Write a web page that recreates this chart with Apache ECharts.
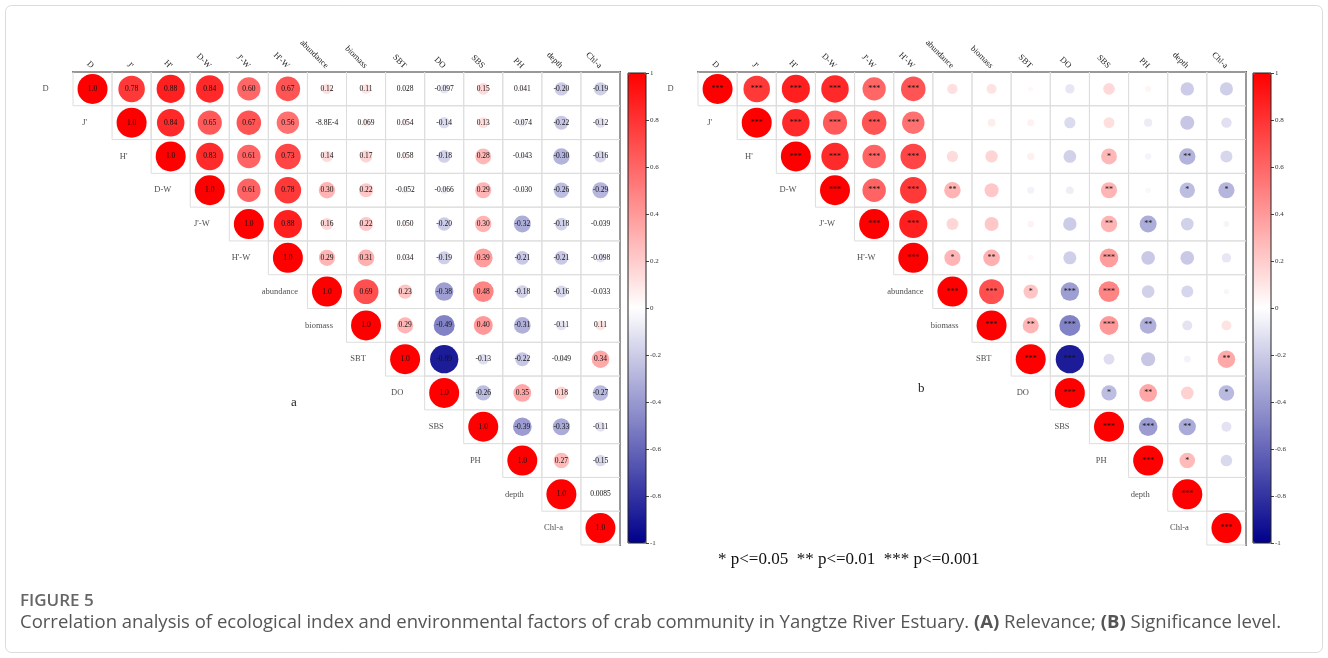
<!DOCTYPE html>
<html>
<head>
<meta charset="utf-8">
<title>Correlation matrix of crab community indices and environmental factors</title>
<script src="https://cdn.jsdelivr.net/npm/echarts@6/dist/echarts.min.js"></script>
<style>
  html, body { margin: 0; padding: 0; background: #ffffff; }
  #chart { width: 1328px; height: 658px; }
</style>
</head>
<body>
<div id="chart"></div>
<script>
// Variables, in matrix order (rows top to bottom, columns left to right)
const varNames = ['D', "J'", "H'", 'D-W', "J'-W", "H'-W", 'abundance', 'biomass',
                  'SBT', 'DO', 'SBS', 'PH', 'depth', 'Chl-a'];

// Upper triangle of the correlation matrix; each row starts at its diagonal
const corrUpper = [
  [1.0, 0.78, 0.88, 0.84, 0.60, 0.67, 0.12, 0.11, 0.028, -0.097, 0.15, 0.041, -0.20, -0.19],
  [1.0, 0.84, 0.65, 0.67, 0.56, -0.00088, 0.069, 0.054, -0.14, 0.13, -0.074, -0.22, -0.12],
  [1.0, 0.83, 0.61, 0.73, 0.14, 0.17, 0.058, -0.18, 0.28, -0.043, -0.30, -0.16],
  [1.0, 0.61, 0.78, 0.30, 0.22, -0.052, -0.066, 0.29, -0.030, -0.26, -0.29],
  [1.0, 0.88, 0.16, 0.22, 0.050, -0.20, 0.30, -0.32, -0.18, -0.039],
  [1.0, 0.29, 0.31, 0.034, -0.19, 0.39, -0.21, -0.21, -0.098],
  [1.0, 0.69, 0.23, -0.38, 0.48, -0.18, -0.16, -0.033],
  [1.0, 0.29, -0.49, 0.40, -0.31, -0.11, 0.11],
  [1.0, -0.89, -0.13, -0.22, -0.049, 0.34],
  [1.0, -0.26, 0.35, 0.18, -0.27],
  [1.0, -0.39, -0.33, -0.11],
  [1.0, 0.27, -0.15],
  [1.0, 0.0085],
  [1.0]
];

// Significance level of each pair: 0 = n.s., 1 = p<=0.05, 2 = p<=0.01, 3 = p<=0.001
const sigUpper = [
  [3, 3, 3, 3, 3, 3, 0, 0, 0, 0, 0, 0, 0, 0],
  [3, 3, 3, 3, 3, 0, 0, 0, 0, 0, 0, 0, 0],
  [3, 3, 3, 3, 0, 0, 0, 0, 1, 0, 2, 0],
  [3, 3, 3, 2, 0, 0, 0, 2, 0, 1, 1],
  [3, 3, 0, 0, 0, 0, 2, 2, 0, 0],
  [3, 1, 2, 0, 0, 3, 0, 0, 0],
  [3, 3, 1, 3, 3, 0, 0, 0],
  [3, 2, 3, 3, 2, 0, 0],
  [3, 3, 0, 0, 0, 2],
  [3, 1, 2, 0, 1],
  [3, 3, 2, 0],
  [3, 1, 0],
  [3, 0],
  [3]
];

// Colour bar scale
const scaleMin = -1;
const scaleMax = 1;
const scaleStep = 0.2;
const scaleColors = ['#00008B', '#ffffff', '#ff0000'];

const legendText = '* p<=0.05  ** p<=0.01  *** p<=0.001';

// ---- build series data from the matrices ----
const cellData = [];
const corrPoints = [];
const sigPoints = [];
const diagData = [];
corrUpper.forEach((row, i) => {
  diagData.push([i, i]);
  row.forEach((r, k) => {
    const j = i + k;
    cellData.push([j, i]);
    corrPoints.push([j, i, r]);
    sigPoints.push([j, i, r, sigUpper[i][k]]);
  });
});

const SERIF = '"Liberation Serif", "DejaVu Serif", serif';
const SANS = '"Open Sans", "Noto Sans", sans-serif';
const MAX_D = 30;

function fmtCorr(v) {
  if (v !== 0 && Math.abs(v) < 0.001) {
    return v.toExponential(1).replace('e', 'E');
  }
  return v.toPrecision(2);
}

function cellRender(params, api) {
  const p = api.coord([api.value(0), api.value(1)]);
  const s = api.size([1, 1]);
  return {
    type: 'rect',
    shape: { x: p[0] - s[0] / 2, y: p[1] - s[1] / 2, width: s[0], height: s[1] },
    style: { fill: 'none', stroke: '#dddddd', lineWidth: 1 }
  };
}

function matrixAxes(gi) {
  return {
    x: {
      type: 'category', gridIndex: gi, position: 'top', data: varNames,
      axisLine: { show: true, lineStyle: { color: '#555', width: 2 } },
      axisTick: { show: false },
      splitLine: { show: false },
      axisLabel: { rotate: 45, interval: 0, margin: 5, fontSize: 8.5, fontFamily: SERIF, color: '#222' }
    },
    y: {
      type: 'category', gridIndex: gi, position: 'right', inverse: true, data: varNames,
      axisLine: { show: true, lineStyle: { color: '#555', width: 2 } },
      axisTick: { show: false },
      axisLabel: { show: false },
      splitLine: { show: false }
    }
  };
}

function barAxes(gi) {
  return {
    x: { type: 'category', gridIndex: gi, data: [''], show: false },
    y: {
      type: 'value', gridIndex: gi, position: 'right',
      min: scaleMin, max: scaleMax, interval: scaleStep,
      axisLine: { show: false },
      axisTick: { show: true, inside: false, length: 3, lineStyle: { color: '#444', width: 1 } },
      splitLine: { show: false },
      axisLabel: {
        margin: 4, fontSize: 7, fontFamily: SERIF, color: '#333',
        formatter: v => String(+v.toFixed(1))
      }
    }
  };
}

const mA = matrixAxes(0), mB = matrixAxes(1), cA = barAxes(2), cB = barAxes(3);

function rowLabelSeries(ax) {
  return {
    type: 'scatter', xAxisIndex: ax, yAxisIndex: ax,
    data: diagData, symbolSize: 1,
    itemStyle: { color: 'rgba(0,0,0,0)' },
    silent: true, z: 5,
    label: {
      show: true, position: 'inside', offset: [-47, 0],
      fontSize: 8.5, fontFamily: SERIF, color: '#222',
      formatter: p => varNames[p.value[1]]
    }
  };
}

const option = {
  backgroundColor: '#ffffff',
  animation: false,
  grid: [
    { left: 73, top: 72, width: 547, height: 473 },
    { left: 698, top: 72, width: 548, height: 473 },
    { left: 628, top: 73, width: 18, height: 470, show: true, z: 10,
      backgroundColor: 'rgba(0,0,0,0)', borderColor: '#222', borderWidth: 1 },
    { left: 1253, top: 73, width: 18, height: 470, show: true, z: 10,
      backgroundColor: 'rgba(0,0,0,0)', borderColor: '#222', borderWidth: 1 }
  ],
  xAxis: [mA.x, mB.x, cA.x, cB.x],
  yAxis: [mA.y, mB.y, cA.y, cB.y],
  visualMap: [
    { type: 'continuous', seriesIndex: 1, dimension: 2, min: scaleMin, max: scaleMax,
      inRange: { color: scaleColors }, calculable: false, text: null, padding: 0,
      left: 628, top: 73, itemWidth: 18, itemHeight: 470, orient: 'vertical', hoverLink: false },
    { type: 'continuous', seriesIndex: 4, dimension: 2, min: scaleMin, max: scaleMax,
      inRange: { color: scaleColors }, calculable: false, text: null, padding: 0,
      left: 1253, top: 73, itemWidth: 18, itemHeight: 470, orient: 'vertical', hoverLink: false }
  ],
  title: [
    { text: 'a', left: 291, top: 396, padding: 0,
      textStyle: { fontSize: 13, fontWeight: 'normal', fontFamily: SERIF, color: '#222' } },
    { text: 'b', left: 918, top: 382, padding: 0,
      textStyle: { fontSize: 13, fontWeight: 'normal', fontFamily: SERIF, color: '#222' } },
    { text: legendText, left: 718, top: 551, padding: 0,
      textStyle: { fontSize: 17, fontWeight: 'normal', fontFamily: SERIF, color: '#111' } },
    { text: 'FIGURE 5', left: 20, top: 593, padding: 0,
      textStyle: { fontSize: 17, fontWeight: 600, fontFamily: SANS, color: '#666' } },
    { text: 'Correlation analysis of ecological index and environmental factors of crab community in Yangtze River Estuary. {b|(A)} Relevance; {b|(B)} Significance level.',
      left: 20, top: 613, padding: 0,
      textStyle: {
        fontSize: 18.5, fontWeight: 'normal', fontFamily: SANS, color: '#555',
        rich: { b: { fontSize: 18.5, fontWeight: 'bold', fontFamily: SANS, color: '#555' } }
      } }
  ],
  graphic: [
    { type: 'rect', silent: true, z: -1,
      shape: { x: 5.5, y: 5.5, width: 1317, height: 647, r: 6 },
      style: { fill: 'none', stroke: '#dcdcdc', lineWidth: 1 } }
  ],
  series: [
    { type: 'custom', xAxisIndex: 0, yAxisIndex: 0, data: cellData, renderItem: cellRender, silent: true, z: 1 },
    { type: 'scatter', xAxisIndex: 0, yAxisIndex: 0, data: corrPoints, z: 3,
      symbolSize: v => MAX_D * Math.sqrt(Math.abs(v[2])),
      itemStyle: { opacity: 1 },
      emphasis: { disabled: true },
      label: { show: true, position: 'inside', fontSize: 7.5, fontFamily: SERIF, color: '#111',
        formatter: p => fmtCorr(p.value[2]) } },
    rowLabelSeries(0),
    { type: 'custom', xAxisIndex: 1, yAxisIndex: 1, data: cellData, renderItem: cellRender, silent: true, z: 1 },
    { type: 'scatter', xAxisIndex: 1, yAxisIndex: 1, data: sigPoints, z: 3,
      symbolSize: v => MAX_D * Math.sqrt(Math.abs(v[2])),
      itemStyle: { opacity: 1 },
      emphasis: { disabled: true },
      label: { show: true, position: 'inside', fontSize: 8, fontFamily: SERIF, color: '#111',
        formatter: p => '*'.repeat(p.value[3]) } },
    rowLabelSeries(1)
  ]
};

const chart = echarts.init(document.getElementById('chart'), null, { renderer: 'canvas' });
chart.setOption(option);
</script>
</body>
</html>
